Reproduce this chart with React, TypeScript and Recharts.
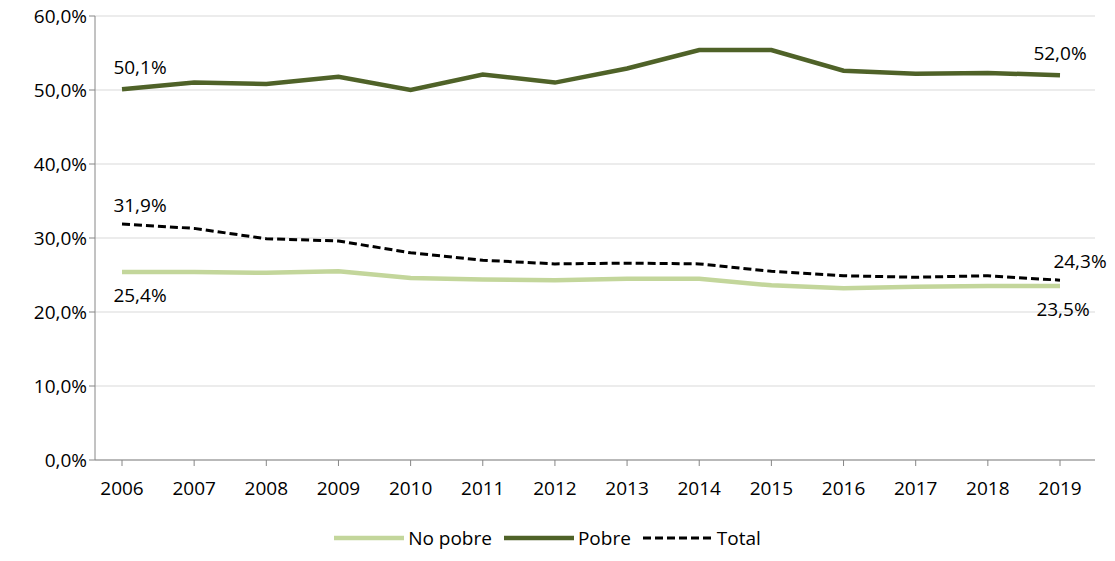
import { LineChart, Line, XAxis, YAxis, CartesianGrid, Legend, LabelList } from 'recharts';

const years = ['2006', '2007', '2008', '2009', '2010', '2011', '2012', '2013', '2014', '2015', '2016', '2017', '2018', '2019'];
const noPobre = [25.4, 25.4, 25.3, 25.5, 24.6, 24.4, 24.3, 24.5, 24.5, 23.6, 23.2, 23.4, 23.5, 23.5];
const pobre = [50.1, 51.0, 50.8, 51.8, 50.0, 52.1, 51.0, 52.9, 55.4, 55.4, 52.6, 52.2, 52.3, 52.0];
const total = [31.9, 31.3, 29.9, 29.6, 28.0, 27.0, 26.5, 26.6, 26.5, 25.5, 24.9, 24.7, 24.9, 24.3];
const yTicks = [0, 10, 20, 30, 40, 50, 60];

const data = years.map((year, i) => ({ year, noPobre: noPobre[i], pobre: pobre[i], total: total[i] }));

const fmt = (v: number) => v.toFixed(1).replace('.', ',') + '%';
const font = 'Open Sans, sans-serif';

const edgeLabel = (dy: number, lastDx: number) => (props: any) => {
  const { x, y, value, index } = props;
  if (index !== 0 && index !== years.length - 1) return null;
  const dx = index === 0 ? 18 : lastDx;
  return (
    <text x={x + dx} y={y + dy} textAnchor="middle" fontSize={19} fill="#000" fontFamily={font}>
      {fmt(value)}
    </text>
  );
};

const legendItems = [
  { name: 'No pobre', color: '#c3d69b', dash: undefined as string | undefined, w: 4.5 },
  { name: 'Pobre', color: '#4f6228', dash: undefined, w: 4.5 },
  { name: 'Total', color: '#000', dash: '8 4', w: 3 },
];

const LegendContent = () => (
  <div style={{ display: 'flex', justifyContent: 'center', gap: 12, fontSize: 19, fontFamily: font, color: '#000', lineHeight: '24px' }}>
    {legendItems.map((it) => (
      <span key={it.name} style={{ display: 'flex', alignItems: 'center', gap: 4 }}>
        <svg width={70} height={10}>
          <line x1={0} y1={5} x2={70} y2={5} stroke={it.color} strokeWidth={it.w} strokeDasharray={it.dash} />
        </svg>
        {it.name}
      </span>
    ))}
  </div>
);

export default function App() {
  return (
    <div style={{ margin: -8, background: '#fff', fontFamily: font }}>
      <LineChart width={1115} height={561} data={data} margin={{ top: 16, right: 20, bottom: 19, left: 0 }}>
        <CartesianGrid vertical={false} stroke="#d9d9d9" />
        <XAxis dataKey="year" stroke="#868686" tick={{ fontSize: 19, fill: '#000' }} tickMargin={16} height={58}
          padding={{ left: 27, right: 35 }} />
        <YAxis domain={[0, 60]} ticks={yTicks} tickFormatter={fmt} stroke="#868686" width={95}
          tick={{ fontSize: 19, fill: '#000' }} />
        <Legend verticalAlign="bottom" content={LegendContent}
          wrapperStyle={{ paddingTop: 0, top: 526, bottom: 'auto' }} />
        <Line name="No pobre" dataKey="noPobre" stroke="#c3d69b" strokeWidth={4.5} dot={false} isAnimationActive={false}>
          <LabelList dataKey="noPobre" content={edgeLabel(30, 3)} />
        </Line>
        <Line name="Pobre" dataKey="pobre" stroke="#4f6228" strokeWidth={4.5} dot={false} isAnimationActive={false}>
          <LabelList dataKey="pobre" content={edgeLabel(-15, 0)} />
        </Line>
        <Line name="Total" dataKey="total" stroke="#000" strokeWidth={3} strokeDasharray="8 4" dot={false} isAnimationActive={false}>
          <LabelList dataKey="total" content={edgeLabel(-12, 20)} />
        </Line>
      </LineChart>
    </div>
  );
}
